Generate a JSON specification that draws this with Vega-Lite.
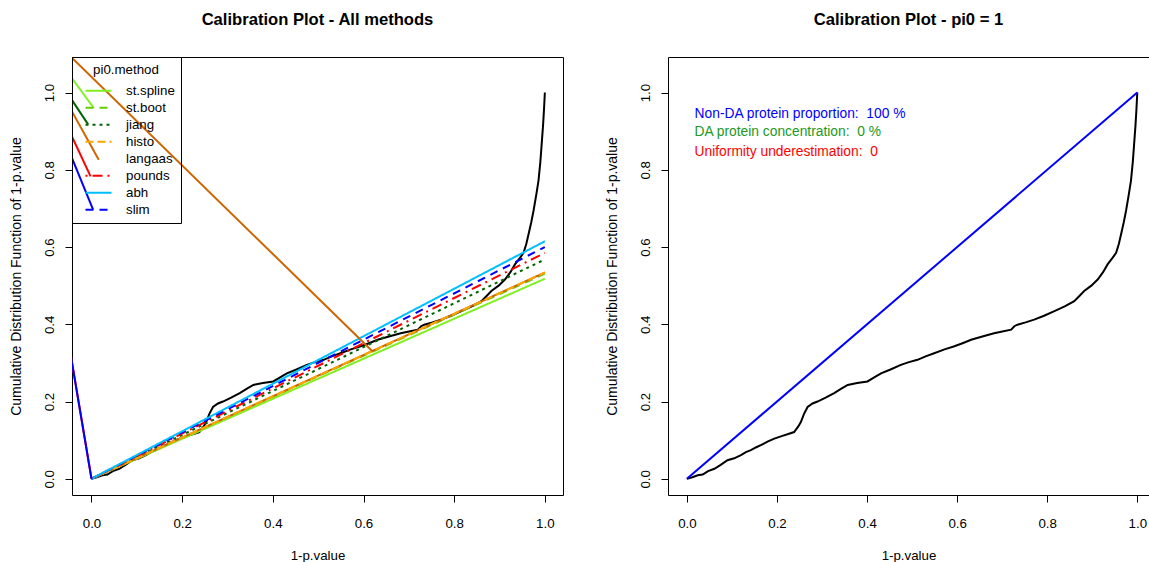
{
  "$schema": "https://vega.github.io/schema/vega-lite/v6.json",
  "background": "white",
  "padding": {"left": 8, "top": 11, "right": 0, "bottom": 0},
  "spacing": 40,
  "config": {
    "font": "Liberation Sans",
    "view": {"stroke": "black", "strokeWidth": 1},
    "axis": {"domain": false, "grid": false, "tickColor": "black", "tickSize": 7, "tickWidth": 1, "labelFontSize": 13.3, "labelColor": "black", "titleFontSize": 13.3, "titleFontWeight": "normal", "titleColor": "black", "labelFont": "Liberation Sans", "titleFont": "Liberation Sans", "labelFlush": false, "labelOverlap": false},
    "axisX": {"labelPadding": 14, "titlePadding": 19},
    "axisY": {"labelAngle": 270, "labelAlign": "center", "labelBaseline": "alphabetic", "labelPadding": 12, "titlePadding": 19, "titleFontSize": 14},
    "title": {"fontSize": 16.6, "fontWeight": "bold", "color": "black", "offset": 28, "anchor": "middle", "font": "Liberation Sans"}
  },
  "datasets": {
    "ecdf": [
      {"x": 0, "y": 0}, {"x": 0.012, "y": 0.004}, {"x": 0.024, "y": 0.009}, {"x": 0.035, "y": 0.011}, {"x": 0.047, "y": 0.02},
      {"x": 0.061, "y": 0.026}, {"x": 0.075, "y": 0.036}, {"x": 0.09, "y": 0.048}, {"x": 0.105, "y": 0.053}, {"x": 0.12, "y": 0.061},
      {"x": 0.131, "y": 0.069}, {"x": 0.142, "y": 0.074}, {"x": 0.153, "y": 0.081}, {"x": 0.164, "y": 0.087}, {"x": 0.179, "y": 0.096},
      {"x": 0.194, "y": 0.104}, {"x": 0.212, "y": 0.111}, {"x": 0.225, "y": 0.116}, {"x": 0.238, "y": 0.121}, {"x": 0.247, "y": 0.135},
      {"x": 0.253, "y": 0.147}, {"x": 0.26, "y": 0.168}, {"x": 0.268, "y": 0.186}, {"x": 0.279, "y": 0.195}, {"x": 0.29, "y": 0.2},
      {"x": 0.308, "y": 0.21}, {"x": 0.327, "y": 0.222}, {"x": 0.342, "y": 0.233}, {"x": 0.357, "y": 0.243}, {"x": 0.378, "y": 0.248},
      {"x": 0.401, "y": 0.252}, {"x": 0.415, "y": 0.262}, {"x": 0.431, "y": 0.273}, {"x": 0.452, "y": 0.283}, {"x": 0.475, "y": 0.295},
      {"x": 0.493, "y": 0.302}, {"x": 0.512, "y": 0.308}, {"x": 0.53, "y": 0.317}, {"x": 0.549, "y": 0.325}, {"x": 0.572, "y": 0.335},
      {"x": 0.594, "y": 0.343}, {"x": 0.612, "y": 0.351}, {"x": 0.631, "y": 0.36}, {"x": 0.658, "y": 0.369}, {"x": 0.682, "y": 0.377},
      {"x": 0.703, "y": 0.382}, {"x": 0.72, "y": 0.386}, {"x": 0.727, "y": 0.395}, {"x": 0.734, "y": 0.399}, {"x": 0.752, "y": 0.405},
      {"x": 0.771, "y": 0.412}, {"x": 0.793, "y": 0.422}, {"x": 0.816, "y": 0.434}, {"x": 0.84, "y": 0.447}, {"x": 0.86, "y": 0.46},
      {"x": 0.872, "y": 0.474}, {"x": 0.882, "y": 0.486}, {"x": 0.898, "y": 0.5}, {"x": 0.912, "y": 0.516}, {"x": 0.924, "y": 0.535},
      {"x": 0.934, "y": 0.555}, {"x": 0.945, "y": 0.572}, {"x": 0.953, "y": 0.585}, {"x": 0.959, "y": 0.608}, {"x": 0.964, "y": 0.633},
      {"x": 0.97, "y": 0.664}, {"x": 0.975, "y": 0.694}, {"x": 0.981, "y": 0.735}, {"x": 0.986, "y": 0.772}, {"x": 0.99, "y": 0.82},
      {"x": 0.993, "y": 0.867}, {"x": 0.996, "y": 0.915}, {"x": 0.998, "y": 0.954}, {"x": 1.0, "y": 1.0}
    ],
    "fits": [
      {"method": "st.boot", "x": 0, "y": 0}, {"method": "st.boot", "x": 1, "y": 0.531},
      {"method": "st.spline", "x": 0, "y": 0}, {"method": "st.spline", "x": 1, "y": 0.518},
      {"method": "jiang", "x": 0, "y": 0}, {"method": "jiang", "x": 1, "y": 0.568},
      {"method": "langaas", "x": 0, "y": 0}, {"method": "langaas", "x": 1, "y": 0.534},
      {"method": "histo", "x": 0, "y": 0}, {"method": "histo", "x": 1, "y": 0.534},
      {"method": "pounds", "x": 0, "y": 0}, {"method": "pounds", "x": 1, "y": 0.585},
      {"method": "slim", "x": 0, "y": 0}, {"method": "slim", "x": 1, "y": 0.6},
      {"method": "abh", "x": 0, "y": 0}, {"method": "abh", "x": 1, "y": 0.615}
    ],
    "extras": [
      {"method": "pounds", "seg": "e1", "x": -0.045, "y": 0.315}, {"method": "pounds", "seg": "e1", "x": 0, "y": 0},
      {"method": "slim", "seg": "e2", "x": -0.045, "y": 0.315}, {"method": "slim", "seg": "e2", "x": 0, "y": 0},
      {"method": "st.spline", "seg": "d1", "x": -0.045, "y": 1.04}, {"method": "st.spline", "seg": "d1", "x": 0.005, "y": 0.96},
      {"method": "jiang", "seg": "d2", "x": -0.045, "y": 0.984}, {"method": "jiang", "seg": "d2", "x": -0.0075, "y": 0.9175},
      {"method": "langaas", "seg": "d3", "x": -0.045, "y": 0.955}, {"method": "langaas", "seg": "d3", "x": 0.016, "y": 0.826},
      {"method": "pounds", "seg": "d4", "x": -0.045, "y": 0.891}, {"method": "pounds", "seg": "d4", "x": -0.002, "y": 0.783},
      {"method": "slim", "seg": "d5", "x": -0.045, "y": 0.836}, {"method": "slim", "seg": "d5", "x": 0.0035, "y": 0.697},
      {"method": "langaas", "seg": "d6", "x": -0.045, "y": 1.092}, {"method": "langaas", "seg": "d6", "x": 0.619, "y": 0.331}
    ]
  },
  "hconcat": [
    {
      "width": 491,
      "height": 438,
      "title": {"text": "Calibration Plot - All methods"},
      "layer": [
        {
          "data": {"name": "ecdf"},
          "mark": {"type": "line", "color": "black", "strokeWidth": 2, "clip": true},
          "encoding": {
            "x": {"field": "x", "type": "quantitative", "scale": {"domain": [-0.043, 1.04], "nice": false, "zero": false}, "axis": {"title": "1-p.value", "values": [0, 0.2, 0.4, 0.6, 0.8, 1], "format": ".1f"}},
            "y": {"field": "y", "type": "quantitative", "scale": {"domain": [-0.042, 1.092], "nice": false, "zero": false}, "axis": {"title": "Cumulative Distribution Function of 1-p.value", "values": [0, 0.2, 0.4, 0.6, 0.8, 1], "format": ".1f"}}
          }
        },
        {
          "data": {"name": "fits"},
          "mark": {"type": "line", "strokeWidth": 2, "clip": true},
          "encoding": {
            "x": {"field": "x", "type": "quantitative"},
            "y": {"field": "y", "type": "quantitative"},
            "color": {
              "field": "method", "type": "nominal",
              "scale": {"domain": ["st.spline", "st.boot", "jiang", "histo", "langaas", "pounds", "abh", "slim"], "range": ["#80F020", "#66CD00", "#006400", "#FFA500", "#CD6600", "#FF0000", "#00BFFF", "#0000FF"]},
              "legend": {
                "title": "pi0.method", "orient": "top-left", "offset": 0, "padding": 6,
                "strokeColor": "black", "symbolType": "M0,0L4,0", "symbolSize": 169, "symbolStrokeWidth": 2,
                "labelOffset": 33, "rowPadding": 3, "titlePadding": 7, "titleAnchor": "middle",
                "titleFontSize": 13.3, "titleFontWeight": "normal", "titleColor": "black", "labelFontSize": 13.3, "labelColor": "black",
                "encode": {"symbols": {"update": {"strokeOpacity": {"signal": "datum.value === 'langaas' ? 0 : 1"}}}}
              }
            },
            "strokeDash": {
              "field": "method", "type": "nominal",
              "scale": {"domain": ["st.spline", "st.boot", "jiang", "histo", "langaas", "pounds", "abh", "slim"], "range": [[1, 0], [8, 6], [3, 4], [8, 4], [1, 0], [2, 5, 10, 5], [1, 0], [8, 6]]},
              "legend": {"title": "pi0.method"}
            }
          }
        },
        {
          "data": {"name": "extras"},
          "mark": {"type": "line", "strokeWidth": 2, "clip": true},
          "encoding": {
            "x": {"field": "x", "type": "quantitative"},
            "y": {"field": "y", "type": "quantitative"},
            "color": {"field": "method", "type": "nominal", "legend": null},
            "detail": {"field": "seg"}
          }
        }
      ]
    },
    {
      "width": 481,
      "height": 438,
      "title": {"text": "Calibration Plot - pi0 = 1"},
      "view": {"stroke": null},
      "resolve": {"axis": {"x": "independent"}},
      "layer": [
        {
          "data": {"name": "ecdf"},
          "mark": {"type": "line", "color": "black", "strokeWidth": 2, "clip": true},
          "encoding": {
            "x": {"field": "x", "type": "quantitative", "scale": {"domain": [-0.042, 1.026], "nice": false, "zero": false}, "axis": {"title": "1-p.value", "values": [0, 0.2, 0.4, 0.6, 0.8, 1], "format": ".1f", "domain": true, "domainColor": "black", "domainWidth": 1}},
            "y": {"field": "y", "type": "quantitative", "scale": {"domain": [-0.042, 1.092], "nice": false, "zero": false}, "axis": {"title": "Cumulative Distribution Function of 1-p.value", "values": [0, 0.2, 0.4, 0.6, 0.8, 1], "format": ".1f", "domain": true, "domainColor": "black", "domainWidth": 1}}
          }
        },
        {
          "data": {"values": [{"x": 0, "y": 0}, {"x": 1, "y": 1}]},
          "mark": {"type": "line", "color": "#0000FF", "strokeWidth": 2, "clip": true},
          "encoding": {
            "x": {"field": "x", "type": "quantitative", "axis": {"orient": "top", "title": null, "labels": false, "ticks": false, "domain": true, "domainColor": "black", "domainWidth": 1}},
            "y": {"field": "y", "type": "quantitative"}
          }
        },
        {
          "data": {"values": [{"label": "Non-DA protein proportion:\u00a0 100 %"}]},
          "mark": {"type": "text", "align": "left", "baseline": "middle", "fontSize": 13.8, "color": "#0000FF"},
          "encoding": {"x": {"datum": 0.017, "type": "quantitative", "axis": null}, "y": {"datum": 0.945, "type": "quantitative"}, "text": {"field": "label"}}
        },
        {
          "data": {"values": [{"label": "DA protein concentration:\u00a0 0 %"}]},
          "mark": {"type": "text", "align": "left", "baseline": "middle", "fontSize": 13.8, "color": "#229922"},
          "encoding": {"x": {"datum": 0.017, "type": "quantitative", "axis": null}, "y": {"datum": 0.898, "type": "quantitative"}, "text": {"field": "label"}}
        },
        {
          "data": {"values": [{"label": "Uniformity underestimation:\u00a0 0"}]},
          "mark": {"type": "text", "align": "left", "baseline": "middle", "fontSize": 13.8, "color": "#FF0000"},
          "encoding": {"x": {"datum": 0.017, "type": "quantitative", "axis": null}, "y": {"datum": 0.846, "type": "quantitative"}, "text": {"field": "label"}}
        }
      ]
    }
  ]
}
